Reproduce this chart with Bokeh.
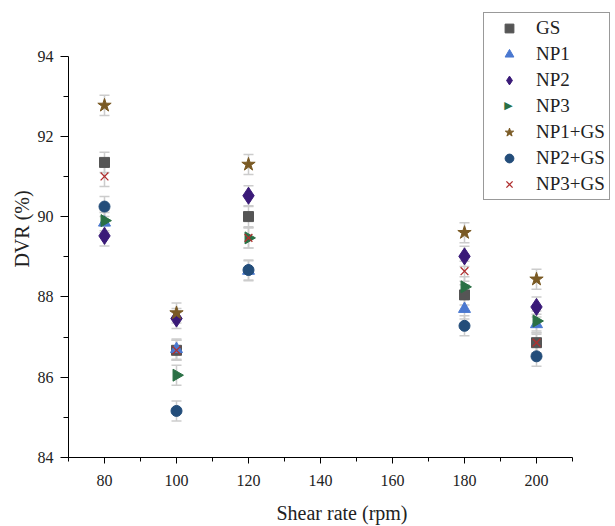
import math
from bokeh.plotting import figure
from bokeh.models import (Range1d, Whisker, ColumnDataSource, Legend, LegendItem,
                          FixedTicker, TeeHead, Label)
from bokeh.embed import file_html
from bokeh.resources import INLINE

shear = [80, 100, 120, 180, 200]
gs = [91.35, 86.67, 90.00, 88.05, 86.86]
np1 = [89.85, 86.70, 88.65, 87.70, 87.32]
np2 = [89.52, 87.46, 90.52, 89.01, 87.75]
np3 = [89.90, 86.05, 89.47, 88.25, 87.40]
np1gs = [92.77, 87.60, 91.30, 89.60, 88.44]
np2gs = [90.25, 85.16, 88.67, 87.28, 86.52]
np3gs = [91.00, 86.67, 89.47, 88.64, 86.86]
err = [0.25, 0.25, 0.25, 0.25, 0.25]

names = ["GS", "NP1", "NP2", "NP3", "NP1+GS", "NP2+GS", "NP3+GS"]
series = [gs, np1, np2, np3, np1gs, np2gs, np3gs]
styles = [
    dict(marker="square", color="#555555", size=10, angle=0.0),
    dict(marker="triangle", color="#4a78d0", size=12, angle=0.0),
    dict(marker="diamond", color="#3a1a78", size=17, angle=0.0),
    dict(marker="triangle", color="#2a7045", size=12, angle=-math.pi / 2),
    dict(marker="star", color="#7a5a24", size=14, angle=0.0),
    dict(marker="circle", color="#234d7a", size=11, angle=0.0),
    dict(marker="x", color="#b03030", size=11, angle=0.0),
]

W, H = 615, 526
FL, FB = 68, 461          # frame left / bottom in canvas pixels
PXX, PXY = 3.6, 40.5      # pixels per data unit
p = figure(width=W, height=H, output_backend="svg", toolbar_location=None,
           x_range=Range1d(70, 70 + (W - FL) / PXX), y_range=Range1d(84, 94 + 56 / PXY),
           min_border_left=FL, min_border_right=0, min_border_top=0, min_border_bottom=H - FB)
p.outline_line_color = None
p.xgrid.visible = False
p.ygrid.visible = False

FONT = "Liberation Serif"
for ax in (p.xaxis[0], p.yaxis[0]):
    ax.axis_line_color = "black"
    ax.major_tick_line_color = "black"
    ax.minor_tick_line_color = "black"
    ax.major_tick_in = 0
    ax.minor_tick_in = 0
    ax.major_label_text_font = FONT
    ax.major_label_text_font_size = "16px"
    ax.major_label_text_color = "#222222"
    ax.axis_label_text_font = FONT
    ax.axis_label_text_font_size = "20px"
    ax.axis_label_text_font_style = "normal"
    ax.axis_label_text_color = "#222222"

p.xaxis.bounds = (70, 210)
p.yaxis.bounds = (84, 94)
p.xaxis.ticker = FixedTicker(ticks=[80, 100, 120, 140, 160, 180, 200],
                             minor_ticks=[70, 90, 110, 130, 150, 170, 190, 210])
p.yaxis.ticker = FixedTicker(ticks=[84, 86, 88, 90, 92, 94],
                             minor_ticks=[85, 87, 89, 91, 93])
p.xaxis.major_tick_out = 6
p.xaxis.minor_tick_out = 4
p.yaxis.major_tick_out = 8
p.yaxis.minor_tick_out = 5
p.xaxis.major_label_standoff = 11
p.yaxis.major_label_standoff = 7
p.xaxis.axis_label = "Shear rate (rpm)"
p.yaxis.axis_label = "DVR (%)"
p.xaxis.axis_label_standoff = 13
p.yaxis.axis_label_standoff = 2

# error bars
for vals in series:
    src = ColumnDataSource(dict(x=shear, lo=[v - e for v, e in zip(vals, err)],
                                hi=[v + e for v, e in zip(vals, err)]))
    wk = Whisker(source=src, base="x", lower="lo", upper="hi", level="underlay",
                 line_color="#cccccc", line_width=1.5,
                 upper_head=TeeHead(size=10, line_color="#cccccc", line_width=1.5),
                 lower_head=TeeHead(size=10, line_color="#cccccc", line_width=1.5))
    p.add_layout(wk)

items = []
for name, vals, st in zip(names, series, styles):
    src = ColumnDataSource(dict(x=shear, y=vals))
    if st["marker"] == "x":
        r = p.scatter("x", "y", source=src, marker="x", size=st["size"],
                      line_color=st["color"], line_width=1.3)
    else:
        r = p.scatter("x", "y", source=src, marker=st["marker"], size=st["size"],
                      fill_color=st["color"], line_color=st["color"], angle=st["angle"])
    if st["angle"] != 0.0:
        # legend glyphs are drawn unrotated: use an empty stand-in, symbol added below
        r = p.scatter([], [], marker="square", size=1, fill_alpha=0, line_alpha=0)
    items.append(LegendItem(label=name, renderers=[r]))

LG_LEFT, LG_TOP, PAD, GW, ROW, SP = 483, 18, 4, 42, 22, 4
lg_h = 2 * PAD + len(names) * ROW + (len(names) - 1) * SP
legend = Legend(items=items, location=(LG_LEFT - FL, FB - (LG_TOP + lg_h)),
                border_line_color="#333333",
                border_line_width=1, background_fill_color="white", background_fill_alpha=0,
                label_text_font=FONT, label_text_font_size="19px", label_text_color="#222222",
                glyph_width=GW, glyph_height=ROW, label_height=ROW, spacing=SP,
                padding=PAD, margin=0, label_standoff=6)
p.add_layout(legend, "center")

i3 = names.index("NP3")
row_cy = (LG_TOP - 2) + PAD + i3 * (ROW + SP) + ROW / 2
p.add_layout(Label(x=LG_LEFT + PAD + GW / 2 - FL, y=FB - row_cy, x_units="screen", y_units="screen",
                   text="\u25B6", text_font="DejaVu Sans", text_font_size="11px", level="overlay",
                   text_color=styles[i3]["color"], text_align="center", text_baseline="middle"))

open("out.html", "w").write(file_html(p, INLINE))
